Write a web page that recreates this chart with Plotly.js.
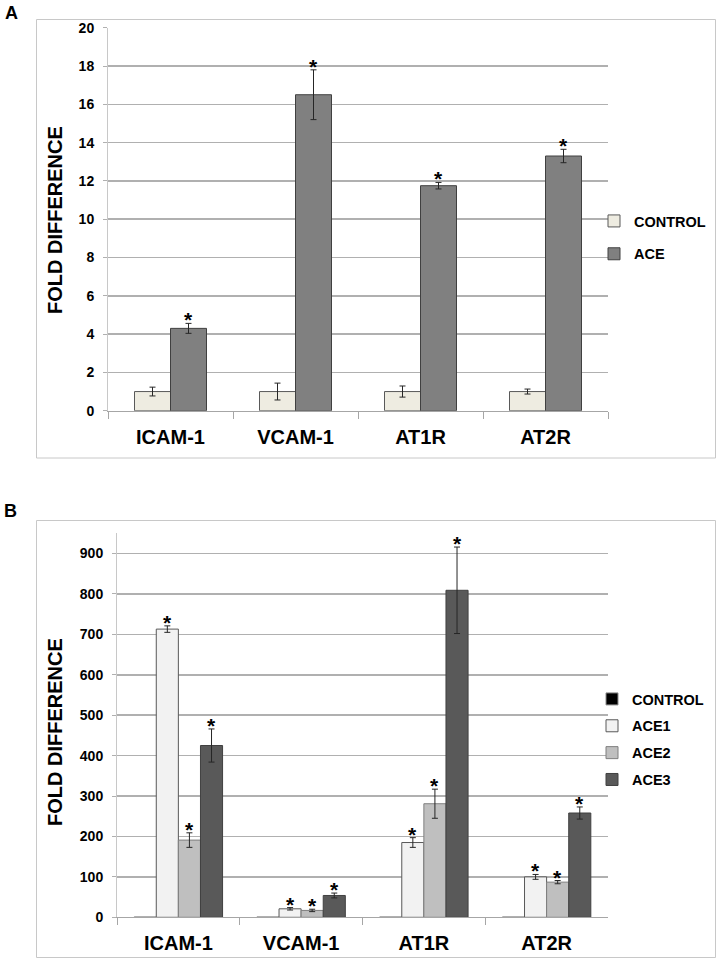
<!DOCTYPE html>
<html>
<head>
<meta charset="utf-8">
<script src="https://cdn.plot.ly/plotly-3.0.1.min.js"></script>
<style>html,body{margin:0;padding:0;background:#fff;}#chart{width:717px;height:962px;}</style>
</head>
<body>
<div id="chart"></div>
<script>
// ---- Data ----
const categories = ['ICAM-1', 'VCAM-1', 'AT1R', 'AT2R'];

// Panel A
const aControl    = [1, 1, 1, 1];
const aControlErr = [0.23, 0.44, 0.29, 0.13];
const aAce        = [4.3, 16.5, 11.75, 13.3];
const aAceErr     = [0.26, 1.3, 0.17, 0.35];

// Panel B
const bControl = [1, 1, 1, 1];
const bAce1    = [713, 21, 185, 100];
const bAce1Err = [8, 3, 12, 6];
const bAce2    = [191, 17, 281, 87];
const bAce2Err = [18, 3, 36, 4];
const bAce3    = [425, 54, 809, 258];
const bAce3Err = [41, 6, 107, 15];

const aTicks = [0, 2, 4, 6, 8, 10, 12, 14, 16, 18, 20];
const bTicks = [0, 100, 200, 300, 400, 500, 600, 700, 800, 900];

// ---- Styling ----
const FONT = 'Liberation Sans, Arial, sans-serif';
const W = 717, H = 962;
const px = v => v / W;
const py = v => 1 - v / H;

const gapA = 0.424, gapB = 0.28;

function err(arr) {
  return {type: 'data', array: arr, visible: true, color: '#262626', thickness: 1, width: 3};
}
// bar j of n inside a category group with the given gap
function slot(j, n, gap) {
  const w = (1 - gap) / n;
  return {width: w, offset: -(1 - gap) / 2 + j * w, center: -(1 - gap) / 2 + (j + 0.5) * w};
}
function bar(name, y, color, line, xa, ya, legend, e, j, n, gap) {
  const s = slot(j, n, gap);
  const t = {
    type: 'bar', name: '<b>' + name + '</b>', x: categories, y: y, xaxis: xa, yaxis: ya,
    legend: legend, legendgroup: name + legend,
    width: s.width, offset: s.offset,
    marker: {color: color, line: {color: line, width: 1}},
    hoverinfo: 'y'
  };
  if (e) t.error_y = err(e);
  return t;
}

const data = [
  bar('CONTROL', aControl, '#eeece1', '#595959', 'x', 'y', 'legend', aControlErr, 0, 2, gapA),
  bar('ACE', aAce, '#808080', '#404040', 'x', 'y', 'legend', aAceErr, 1, 2, gapA),
  bar('CONTROL', bControl, '#000000', '#8c8c8c', 'x2', 'y2', 'legend2', null, 0, 4, gapB),
  bar('ACE1', bAce1, '#f2f2f2', '#595959', 'x2', 'y2', 'legend2', bAce1Err, 1, 4, gapB),
  bar('ACE2', bAce2, '#bfbfbf', '#7f7f7f', 'x2', 'y2', 'legend2', bAce2Err, 2, 4, gapB),
  bar('ACE3', bAce3, '#595959', '#404040', 'x2', 'y2', 'legend2', bAce3Err, 3, 4, gapB)
];

// Stars above error bars, positioned through the category axis
const annotations = [];
function stars(vals, errs, j, n, gap, xref, yref) {
  const s = slot(j, n, gap);
  vals.forEach((v, i) => {
    annotations.push({
      xref: xref, yref: yref, x: i + s.center, y: v + errs[i],
      text: '*', showarrow: false, xanchor: 'center', yanchor: 'bottom', yshift: -10,
      font: {family: FONT, size: 21, color: '#000', weight: 'bold'}
    });
  });
}
stars(aAce, aAceErr, 1, 2, gapA, 'x', 'y');
stars(bAce1, bAce1Err, 1, 4, gapB, 'x2', 'y2');
stars(bAce2, bAce2Err, 2, 4, gapB, 'x2', 'y2');
stars(bAce3, bAce3Err, 3, 4, gapB, 'x2', 'y2');

// Panel letters and y titles
function label(text, x, y, size, angle) {
  annotations.push({
    xref: 'paper', yref: 'paper', x: px(x), y: py(y), text: text, showarrow: false,
    xanchor: 'center', yanchor: 'middle', textangle: angle || 0,
    font: {family: FONT, size: size, color: '#000', weight: 'bold'}
  });
}
label('A', 11, 13, 18);
label('B', 10, 511, 18);
label('FOLD DIFFERENCE', 55, 220, 20, -90);
label('FOLD DIFFERENCE', 55, 732, 20, -90);

const xCommon = {
  type: 'category', tickson: 'boundaries', ticks: 'outside', ticklen: 7,
  tickcolor: '#a6a6a6', tickwidth: 1, showline: true, linecolor: '#a6a6a6', linewidth: 1,
  showgrid: false, zeroline: false, fixedrange: true, ticklabelstandoff: 8,
  range: [-0.5, 3.5],
  tickfont: {family: FONT, size: 20, color: '#000', weight: 'bold'}
};
const yCommon = {
  showgrid: true, gridcolor: '#b0b0b0', gridwidth: 1.5, ticks: 'outside', ticklen: 4,
  tickcolor: '#b0b0b0', showline: true, linecolor: '#c8c8c8', linewidth: 1,
  zeroline: false, fixedrange: true, tickmode: 'array', ticklabelstandoff: 6,
  tickfont: {family: FONT, size: 14, color: '#000', weight: 'bold'}
};

const layout = {
  width: W, height: H,
  margin: {l: 0, r: 0, t: 0, b: 0},
  paper_bgcolor: '#fff', plot_bgcolor: 'rgba(0,0,0,0)',
  barmode: 'overlay',
  showlegend: true,
  xaxis: Object.assign({}, xCommon, {domain: [px(108), px(608)], anchor: 'y'}),
  yaxis: Object.assign({}, yCommon, {domain: [py(410.7), py(27.7)], anchor: 'x', range: [0, 20], tickvals: aTicks}),
  xaxis2: Object.assign({}, xCommon, {domain: [px(117), px(608)], anchor: 'y2'}),
  yaxis2: Object.assign({}, yCommon, {domain: [py(917.3), py(533.3)], anchor: 'x2', range: [0, 950], tickvals: bTicks}),
  legend: {
    x: px(594), y: py(205), xanchor: 'left', yanchor: 'top', bgcolor: 'rgba(0,0,0,0)',
    tracegroupgap: 11, itemwidth: 30,
    font: {family: FONT, size: 14.5, color: '#000', weight: 'bold'}
  },
  legend2: {
    x: px(592), y: py(683), xanchor: 'left', yanchor: 'top', bgcolor: 'rgba(0,0,0,0)',
    tracegroupgap: 5, itemwidth: 30,
    font: {family: FONT, size: 14.5, color: '#000', weight: 'bold'}
  },
  annotations: annotations,
  shapes: [
    {type: 'rect', xref: 'paper', yref: 'paper', x0: px(36.5), x1: px(715.5), y0: py(458), y1: py(19.5), line: {color: '#c8c8c8', width: 1}, layer: 'below'},
    {type: 'rect', xref: 'paper', yref: 'paper', x0: px(36.5), x1: px(715.5), y0: py(957.5), y1: py(520.5), line: {color: '#c8c8c8', width: 1}, layer: 'below'}
  ]
};

Plotly.newPlot('chart', data, layout, {staticPlot: true, displayModeBar: false});
</script>
</body>
</html>
